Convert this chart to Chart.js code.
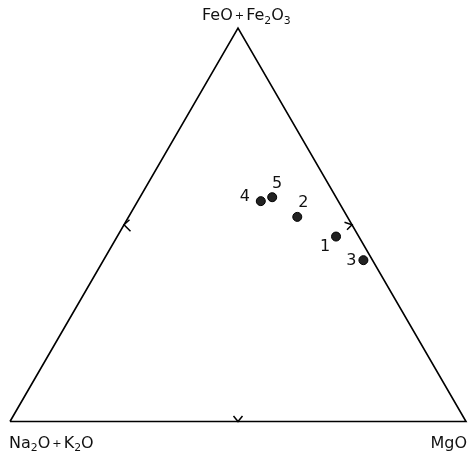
<!DOCTYPE html>
<html>
<head>
<meta charset="utf-8">
<script src="https://cdn.jsdelivr.net/npm/chart.js@4/dist/chart.umd.min.js"></script>
<style>
  html, body { margin: 0; padding: 0; background: #fff; }
  canvas { display: block; }
</style>
</head>
<body>
<canvas id="afmChart" width="468" height="457"></canvas>
<script>
// AFM ternary diagram, values in wt%
const sampleLabels = ["1", "2", "3", "4", "5"];
const feoValues = [47, 52, 41, 56, 57];   // FeO + Fe2O3
const mgoValues = [48, 37, 57, 27, 29];   // MgO
const alkValues = [5, 11, 2, 17, 14];     // Na2O + K2O

// label nudges in px, relative to each dot
const labelOffsets = [[-11, 10], [6, -14], [-12, 1], [-16, -4], [5, -13]];

const H = 86.6; // height of the unit triangle (side 100)

function toXY(f, m, a) {
  const s = f + m + a;
  const fp = f / s * 100, mp = m / s * 100;
  return { x: mp + fp / 2, y: fp * H / 100 };
}

const samplePoints = feoValues.map((f, i) => toXY(f, mgoValues[i], alkValues[i]));
const frame = [toXY(0, 0, 100), toXY(0, 100, 0), toXY(100, 0, 0), toXY(0, 0, 100)];

// draws text made of parts, parts = [[text, kind], ...]
function drawRich(ctx, parts, x, y, size) {
  parts.forEach(([t, kind]) => {
    let fs = size, dy = 0, pad = 0;
    if (kind === "sub") { fs = size * 0.68; dy = size * 0.22; }
    if (kind === "plus") { fs = size * 0.7; dy = -size * 0.06; pad = 2; }
    ctx.font = fs + "px 'DejaVu Sans'";
    x += pad;
    ctx.fillText(t, x, y + dy);
    x += ctx.measureText(t).width + pad;
  });
}

const ternaryDecor = {
  id: "ternaryDecor",
  afterDatasetsDraw(chart) {
    const { ctx, scales } = chart;
    const px = (x, y) => ({ x: scales.x.getPixelForValue(x), y: scales.y.getPixelForValue(y) });
    ctx.save();
    ctx.strokeStyle = "#000";
    ctx.lineWidth = 1.5;

    // chevrons at the middle of each side
    const chevrons = [
      { p: px(50, 0), arms: [[-4.5, -5.5], [4.5, -5.5]] },
      { p: px(25, H / 2), arms: [[5.5, -5], [6.5, 6.5]] },
      { p: px(75, H / 2), arms: [[-7.5, -2.5], [-5, 5]] }
    ];
    chevrons.forEach(c => {
      ctx.beginPath();
      ctx.moveTo(c.p.x + c.arms[0][0], c.p.y + c.arms[0][1]);
      ctx.lineTo(c.p.x, c.p.y);
      ctx.lineTo(c.p.x + c.arms[1][0], c.p.y + c.arms[1][1]);
      ctx.stroke();
    });

    ctx.fillStyle = "#111";
    ctx.textBaseline = "alphabetic";
    ctx.textAlign = "left";

    // vertex labels
    const top = px(50, H), left = px(0, 0), right = px(100, 0);
    drawRich(ctx, [["FeO", ""], ["+", "plus"], ["Fe", ""], ["2", "sub"], ["O", ""], ["3", "sub"]], top.x - 36, top.y - 8, 16);
    drawRich(ctx, [["Na", ""], ["2", "sub"], ["O", ""], ["+", "plus"], ["K", ""], ["2", "sub"], ["O", ""]], left.x - 1, left.y + 26, 16);
    ctx.font = "16px 'DejaVu Sans'";
    ctx.textAlign = "right";
    ctx.fillText("MgO", right.x + 1, right.y + 26);

    // sample numbers
    ctx.textAlign = "center";
    ctx.textBaseline = "middle";
    const meta = chart.getDatasetMeta(1);
    meta.data.forEach((el, i) => {
      ctx.fillText(sampleLabels[i], el.x + labelOffsets[i][0], el.y + labelOffsets[i][1]);
    });
    ctx.restore();
  }
};

new Chart(document.getElementById("afmChart"), {
  type: "scatter",
  data: {
    datasets: [
      {
        label: "frame",
        data: frame,
        showLine: true,
        borderColor: "#000",
        borderWidth: 1.6,
        pointRadius: 0,
        fill: false,
        tension: 0,
        clip: false
      },
      {
        label: "samples",
        data: samplePoints,
        pointRadius: 4.5,
        pointBackgroundColor: "#222",
        pointBorderColor: "#000",
        pointBorderWidth: 1,
        clip: false
      }
    ]
  },
  options: {
    responsive: false,
    animation: false,
    layout: { autoPadding: false, padding: { left: 10, right: 2, top: 28, bottom: 35.5 } },
    plugins: { legend: { display: false }, tooltip: { enabled: false } },
    scales: {
      x: { type: "linear", min: 0, max: 100, display: false },
      y: { type: "linear", min: 0, max: H, display: false }
    }
  },
  plugins: [ternaryDecor]
});
</script>
</body>
</html>
